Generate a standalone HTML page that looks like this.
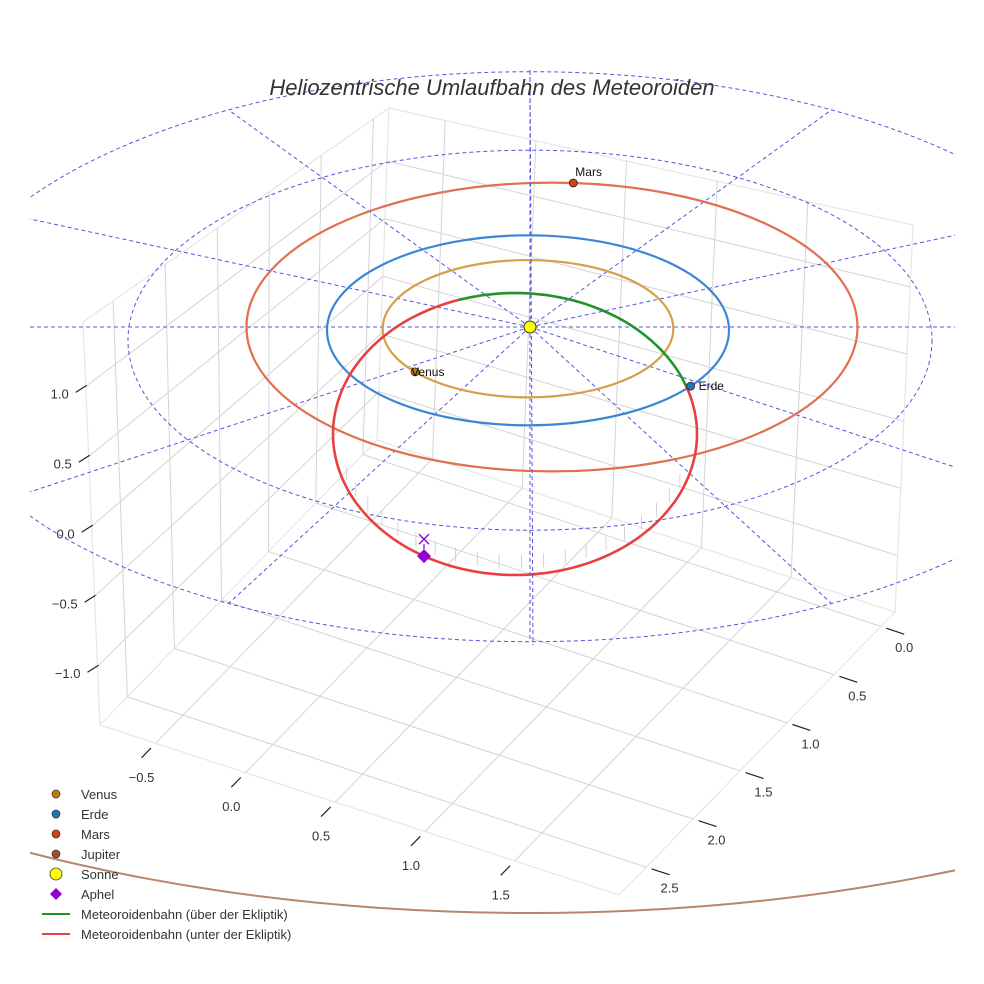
<!DOCTYPE html>
<html><head><meta charset="utf-8"><style>
html,body{margin:0;padding:0;background:#fff}
svg{display:block;font-family:"Liberation Sans",sans-serif}
</style></head><body>
<svg id="chart" width="984" height="984" viewBox="0 0 984 984" xmlns="http://www.w3.org/2000/svg">
<rect width="984" height="984" fill="#fff"/>
<g id="box"></g>
<g id="ecl"></g>
<g id="orbits"></g>
<g id="marks"></g>
<text x="492" y="95" text-anchor="middle" font-size="22" font-style="italic" fill="#333">Heliozentrische Umlaufbahn des Meteoroiden</text>
<g id="legend"></g>
</svg>
<script>
// ---- data ----
const xTicks=[-0.5,0.0,0.5,1.0,1.5];
const yTicks=[0.0,0.5,1.0,1.5,2.0,2.5];
const zTicks=[-1.0,-0.5,0.0,0.5,1.0];
const xRange=[-0.81,2.08];
const yRange=[-0.15,2.79];
const zRange=[-1.42,1.46];
const planetNames=['Venus','Erde','Mars'];
const planetRadii=[0.723,1.0,1.52];
const planetAngles=[141,36,274];
const planetColors=['#d4a04a','#3a86d4','#e07050'];
const markerColors=['#c07a10','#1f77b4','#cc4411'];
const jupiterRadius=5.2;
const ringRadii=[2,3];
const spokeAngles=[30,60,90,120,150,210,240,270,300,330];
const meteorCenter=[515,434];
const meteorRadii=[182,141];
const meteorAboveStart=-108, meteorAboveEnd=-20;
const aphelAngle=120;

const NS='http://www.w3.org/2000/svg';
function mk(tag,attrs,parent){const e=document.createElementNS(NS,tag);for(const k in attrs)e.setAttribute(k,attrs[k]);parent.appendChild(e);return e;}
// ---- box projection ----
const C={back:[377,440],right:[895,612],left:[100,725],front:[619,895],
 backT:[389,108],rightT:[913,225],leftT:[83,322]};
C.frontT=[C.leftT[0]+C.rightT[0]-C.backT[0],C.leftT[1]+C.rightT[1]-C.backT[1]];
function bil(b,r,l,f,a,c){return [b[0]+a*(r[0]-b[0])+c*(l[0]-b[0])+a*c*(f[0]-l[0]-r[0]+b[0]),
 b[1]+a*(r[1]-b[1])+c*(l[1]-b[1])+a*c*(f[1]-l[1]-r[1]+b[1])];}
function P(x,y,z){const a=(x-xRange[0])/(xRange[1]-xRange[0]);const c=(y-yRange[0])/(yRange[1]-yRange[0]);
 const t=(z-zRange[0])/(zRange[1]-zRange[0]);
 const f=bil(C.back,C.right,C.left,C.front,a,c),u=bil(C.backT,C.rightT,C.leftT,C.frontT,a,c);
 return [f[0]+t*(u[0]-f[0]),f[1]+t*(u[1]-f[1])];}
const box=document.getElementById('box');
function line(p,q,st,w,par,name){const e=mk('line',{x1:p[0].toFixed(1),y1:p[1].toFixed(1),x2:q[0].toFixed(1),y2:q[1].toFixed(1),stroke:st,'stroke-width':w},par);
 
 return e;}
const [x0,x1]=xRange,[y0,y1]=yRange,[z0,z1]=zRange;
const edge='#e6e6e6';
[[P(x0,y0,z0),P(x1,y0,z0)],[P(x0,y0,z0),P(x0,y1,z0)],[P(x0,y0,z0),P(x0,y0,z1)],
 [P(x0,y1,z0),P(x0,y1,z1)],[P(x1,y0,z0),P(x1,y0,z1)],[P(x0,y1,z1),P(x0,y0,z1)],[P(x0,y0,z1),P(x1,y0,z1)],
 [P(x0,y1,z0),P(x1,y1,z0)],[P(x1,y0,z0),P(x1,y1,z0)]].forEach(s=>line(s[0],s[1],edge,1.2,box,'pane-edge'));
const gc='#d4d4d4';
xTicks.forEach(v=>{line(P(v,y0,z0),P(v,y1,z0),gc,1,box,'x-grid-floor');line(P(v,y0,z0),P(v,y0,z1),gc,1,box,'x-grid-wall');});
yTicks.forEach(v=>{line(P(x0,v,z0),P(x1,v,z0),gc,1,box,'y-grid-floor');line(P(x0,v,z0),P(x0,v,z1),gc,1,box,'y-grid-wall');});
zTicks.forEach(v=>{line(P(x0,y0,v),P(x1,y0,v),gc,1,box,'z-grid-back');line(P(x0,y0,v),P(x0,y1,v),gc,1,box,'z-grid-left');});
xTicks.forEach(v=>{const q=P(v,y1+0.15,z0);line(P(v,y1+0.05,z0),q,'#222',1.2,box,'x-tick');
 const t=mk('text',{x:(q[0]).toFixed(1),y:(q[1]+24).toFixed(1),'text-anchor':'middle','font-size':13,fill:'#333'},box);
 t.textContent=v.toFixed(1).replace('-','\u2212');});
yTicks.forEach(v=>{const q=P(x1+0.13,v,z0);line(P(x1+0.03,v,z0),q,'#222',1.2,box,'y-tick');
 const t=mk('text',{x:(q[0]).toFixed(1),y:(q[1]+18).toFixed(1),'text-anchor':'middle','font-size':13,fill:'#333'},box);
 t.textContent=v.toFixed(1);});
zTicks.forEach(v=>{const p=P(x0,y1,v);line([p[0]-10,p[1]+6],[p[0]+1,p[1]-1],'#222',1.2,box,'z-tick');
 const t=mk('text',{x:(p[0]-17).toFixed(1),y:(p[1]+12).toFixed(1),'text-anchor':'end','font-size':13,fill:'#333'},box);
 t.textContent=v.toFixed(1).replace('-','\u2212');});
// ---- ecliptic screen projection ----
const SX=201,SY=95,CX=530,CY=327;
const ecl=document.getElementById('ecl');
mk('clipPath',{id:'clipv'},ecl).appendChild(document.createElementNS(NS,'rect'));
const cr=ecl.querySelector('#clipv rect');cr.setAttribute('x',30);cr.setAttribute('y',40);cr.setAttribute('width',925);cr.setAttribute('height',620);
const dash={stroke:'#5555dd','stroke-width':1,'stroke-dasharray':'4,3',fill:'none'};
ringRadii.forEach(r=>{const e=mk('ellipse',Object.assign({cx:CX,cy:CY+3.3*r*r,rx:SX*r,ry:SY*r,'clip-path':'url(#clipv)'},dash),ecl);
 });
const outerR=ringRadii[ringRadii.length-1];
spokeAngles.forEach(a=>{const r=a*Math.PI/180;const q=[CX+SX*outerR*Math.cos(r),CY+3.3*outerR*outerR+SY*outerR*Math.sin(r)];
 const e=mk('line',Object.assign({x1:CX,y1:CY,x2:q[0].toFixed(1),y2:q[1].toFixed(1),'clip-path':'url(#clipv)'},dash),ecl);
 });
let e1=mk('line',Object.assign({x1:30,y1:CY,x2:955,y2:CY},dash),ecl);
// ---- orbits ----
const orb=document.getElementById('orbits');
mk('clipPath',{id:'clipj'},orb).appendChild(document.createElementNS(NS,'rect'));
const cj=orb.querySelector('#clipj rect');cj.setAttribute('x',30);cj.setAttribute('y',600);cj.setAttribute('width',925);cj.setAttribute('height',384);
let j=mk('ellipse',{cx:CX,cy:CY+92,rx:SX*jupiterRadius,ry:SY*jupiterRadius,fill:'none',stroke:'#b8866b','stroke-width':2,'clip-path':'url(#clipj)'},orb);

function planetCenter(i){const r=planetRadii[i];return i==2?[CX+22,CY]:[CX-2,CY+3.3*r*r];}
planetRadii.forEach((r,i)=>{const c=planetCenter(i);const e=mk('ellipse',{cx:c[0],cy:c[1],rx:SX*r,ry:SY*r,fill:'none',stroke:planetColors[i],'stroke-width':2.2},orb);
 });
function M(t){const a=t*Math.PI/180;return [meteorCenter[0]+meteorRadii[0]*Math.cos(a),meteorCenter[1]+meteorRadii[1]*Math.sin(a)];}
function arc(t0,t1){let d='';for(let t=t0;t<=t1+0.01;t+=2){const p=M(t);d+=(d?'L':'M')+p[0].toFixed(1)+','+p[1].toFixed(1);}return d;}
for(let t=25;t<=160;t+=7){const p=M(t);const e=mk('line',{x1:p[0].toFixed(1),y1:(p[1]-6).toFixed(1),x2:p[0].toFixed(1),y2:(p[1]-20).toFixed(1),stroke:'#c8c8c8','stroke-width':0.8},orb);
 }
let m=mk('path',{d:arc(meteorAboveEnd,360+meteorAboveStart),fill:'none',stroke:'#e84040','stroke-width':2.6},orb);

m=mk('path',{d:arc(meteorAboveStart,meteorAboveEnd),fill:'none',stroke:'#22922a','stroke-width':2.6},orb);

e1=mk('line',Object.assign({x1:CX,y1:70,x2:CX+3,y2:645},dash),orb);
// ---- markers ----
const mg=document.getElementById('marks');
planetRadii.forEach((r,i)=>{const c0=planetCenter(i);const a=planetAngles[i]*Math.PI/180;const p=[c0[0]+SX*r*Math.cos(a),c0[1]+SY*r*Math.sin(a)];
 const c=mk('circle',{cx:p[0].toFixed(1),cy:p[1].toFixed(1),r:4,fill:markerColors[i],stroke:'#222','stroke-width':0.8},mg);
 
 const t=mk('text',{x:(p[0]+(i==0?-4:(i==2?2:8))).toFixed(1),y:(p[1]+(i==2?-7:4)).toFixed(1),'font-size':12,fill:'#111'},mg);
 t.textContent=planetNames[i];});
let s=mk('circle',{cx:CX,cy:CY,r:6,fill:'#ffff00',stroke:'#333','stroke-width':1},mg);
const ap=M(aphelAngle);
let d=mk('path',{d:`M${ap[0]},${ap[1]-7}L${ap[0]+7},${ap[1]}L${ap[0]},${ap[1]+7}L${ap[0]-7},${ap[1]}Z`,fill:'#9400d3'},mg);
d=mk('path',{d:`M${ap[0]-5},${ap[1]-22}L${ap[0]+5},${ap[1]-12}M${ap[0]+5},${ap[1]-22}L${ap[0]-5},${ap[1]-12}M${ap[0]},${ap[1]-12}L${ap[0]},${ap[1]-7}`,stroke:'#9400d3','stroke-width':1.3,fill:'none'},mg);

// ---- legend ----
const lg=document.getElementById('legend');
const legendLabels=['Venus','Erde','Mars','Jupiter','Sonne','Aphel','Meteoroidenbahn (über der Ekliptik)','Meteoroidenbahn (unter der Ekliptik)'];
const legendColors=['#c07a10','#1f77b4','#cc4411','#a0522d','#ffff00','#9400d3','#22922a','#e84040'];
legendLabels.forEach((lab,i)=>{const y=794+i*20;let e;
 if(i<4){e=mk('circle',{cx:56,cy:y,r:4,fill:legendColors[i],stroke:'#333','stroke-width':0.7},lg);}
 else if(i==4){e=mk('circle',{cx:56,cy:y,r:6,fill:legendColors[i],stroke:'#333','stroke-width':0.8},lg);}
 else if(i==5){e=mk('path',{d:`M56,${y-6}L62,${y}L56,${y+6}L50,${y}Z`,fill:legendColors[i]},lg);}
 else {e=mk('line',{x1:42,y1:y,x2:70,y2:y,stroke:legendColors[i],'stroke-width':2},lg);}
 
 const t=mk('text',{x:81,y:y+5,'font-size':13,fill:'#333'},lg);t.textContent=lab;
 });
</script>
</body></html>
